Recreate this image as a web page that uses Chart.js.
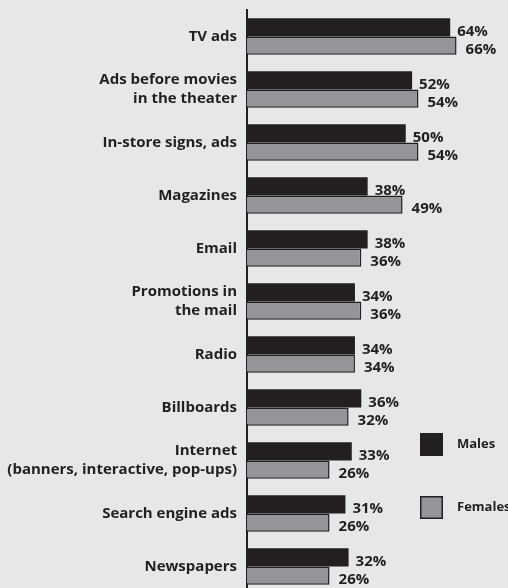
<!DOCTYPE html>
<html>
<head>
<meta charset="utf-8">
<script src="https://cdn.jsdelivr.net/npm/chart.js@4"></script>
<style>
  html, body { margin: 0; padding: 0; background: #e6e7e8; overflow: hidden; }
  #wrap { position: relative; width: 508px; height: 594px; }
</style>
</head>
<body>
<div id="wrap"><canvas id="chart"></canvas></div>
<script>
const categories = [
  'TV ads',
  ['Ads before movies', 'in the theater'],
  'In-store signs, ads',
  'Magazines',
  'Email',
  ['Promotions in', 'the mail'],
  'Radio',
  'Billboards',
  ['Internet', '(banners, interactive, pop-ups)'],
  'Search engine ads',
  'Newspapers'
];
const males = [64, 52, 50, 38, 38, 34, 34, 36, 33, 31, 32];
const females = [66, 54, 54, 49, 36, 36, 34, 32, 26, 26, 26];

const INK = '#231f20';
const GREY = '#939598';
const FONT = 'Open Sans';

// percentage labels just past the end of each bar, nudged down a little
const valueLabels = {
  id: 'valueLabels',
  afterDatasetsDraw(chart) {
    const ctx = chart.ctx;
    ctx.save();
    ctx.fillStyle = INK;
    ctx.font = `bold 15px "${FONT}"`;
    ctx.textBaseline = 'middle';
    ctx.textAlign = 'left';
    chart.data.datasets.forEach((ds, i) => {
      const gap = i === 0 ? 7 : 9;
      chart.getDatasetMeta(i).data.forEach((bar, j) => {
        ctx.fillText(ds.data[j] + '%', bar.x + gap, bar.y + 4);
      });
    });
    ctx.restore();
  }
};

// boxed legend sitting inside the plot, lower right
const boxLegend = {
  id: 'boxLegend',
  afterDraw(chart, args, opts) {
    const ctx = chart.ctx;
    ctx.save();
    ctx.font = `bold 13px "${FONT}"`;
    ctx.textBaseline = 'middle';
    chart.data.datasets.forEach((ds, i) => {
      const x = opts.x, y = opts.y + i * opts.step, s = opts.size;
      ctx.fillStyle = ds.backgroundColor;
      ctx.fillRect(x, y, s, s);
      ctx.strokeStyle = INK;
      ctx.lineWidth = 1.5;
      ctx.strokeRect(x + 0.75, y + 0.75, s - 1.5, s - 1.5);
      ctx.fillStyle = INK;
      ctx.fillText(ds.label, x + s + 14, y + s / 2);
    });
    ctx.restore();
  }
};

new Chart(document.getElementById('chart'), {
  type: 'bar',
  data: {
    labels: categories,
    datasets: [
      { label: 'Males', data: males, backgroundColor: INK, borderWidth: 0 },
      { label: 'Females', data: females, backgroundColor: GREY, borderColor: INK, borderWidth: 1.5 }
    ]
  },
  options: {
    indexAxis: 'y',
    responsive: true,
    maintainAspectRatio: false,
    animation: false,
    categoryPercentage: 0.686,
    barPercentage: 1,
    layout: { padding: { top: 10, bottom: 1, right: 7, left: 0 } },
    scales: {
      x: { display: false, min: 0, max: 80 },
      y: {
        grid: { display: false, drawTicks: false },
        border: { display: true, color: INK, width: 2 },
        ticks: {
          color: INK,
          padding: 10,
          font: { family: FONT, weight: 'bold', size: 15, lineHeight: 1.27 }
        },
        afterFit(scale) {
          scale.width = 247;
          scale.paddingTop = 0;
          scale.paddingBottom = 0;
        }
      }
    },
    plugins: {
      legend: { display: false },
      tooltip: { enabled: false },
      boxLegend: { x: 420, y: 433, step: 63, size: 23 }
    }
  },
  plugins: [valueLabels, boxLegend]
});
</script>
</body>
</html>
